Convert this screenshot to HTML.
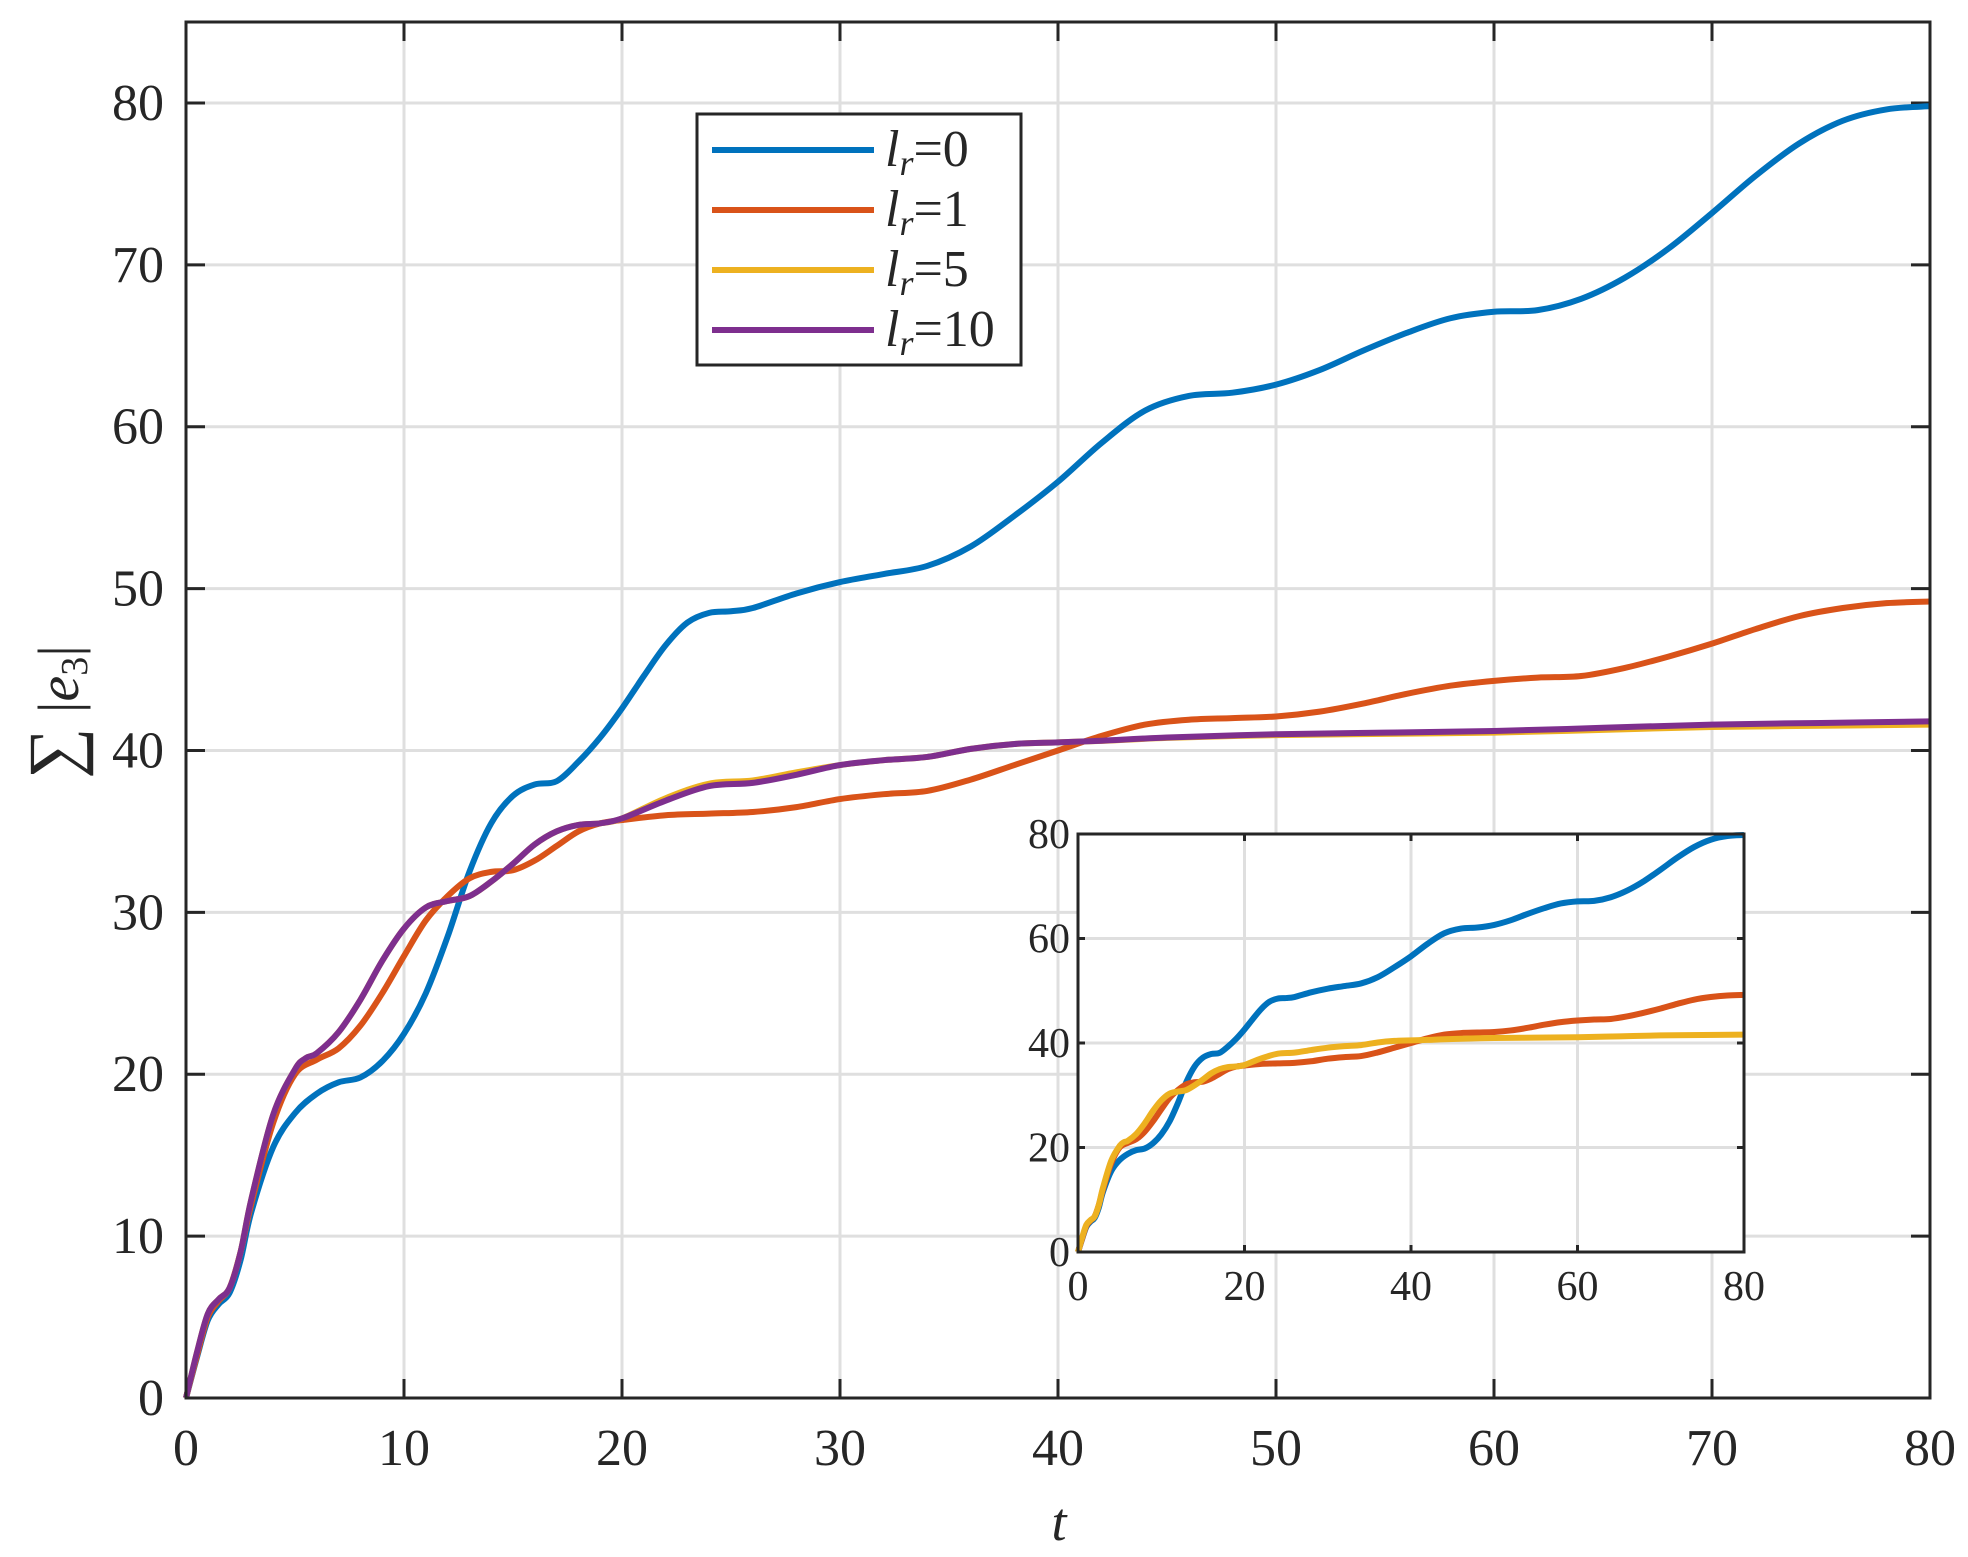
<!DOCTYPE html>
<html><head><meta charset="utf-8"><style>
html,body{margin:0;padding:0;background:#fff;}
svg{display:block;}
text{font-family:"Liberation Serif",serif;fill:#262626;}
</style></head><body>
<svg id="s" width="1968" height="1557" viewBox="0 0 1968 1557" xmlns="http://www.w3.org/2000/svg">
<rect width="1968" height="1557" fill="#fff"/>
<g id="main"></g>
<g id="leg">
<rect x="697" y="114" width="324" height="251" fill="#fff" stroke="#262626" stroke-width="3"/>
<line x1="712" y1="150" x2="874" y2="150" stroke="#0072BD" stroke-width="6"/>
<line x1="712" y1="210" x2="874" y2="210" stroke="#D95319" stroke-width="6"/>
<line x1="712" y1="270" x2="874" y2="270" stroke="#EDB120" stroke-width="6"/>
<line x1="712" y1="330" x2="874" y2="330" stroke="#7E2F8E" stroke-width="6"/>
<g font-size="52" fill="#000">
<text x="885" y="166"><tspan font-style="italic">l</tspan><tspan font-style="italic" font-size="36" dy="9">r</tspan><tspan dy="-9">=0</tspan></text>
<text x="885" y="226"><tspan font-style="italic">l</tspan><tspan font-style="italic" font-size="36" dy="9">r</tspan><tspan dy="-9">=1</tspan></text>
<text x="885" y="286"><tspan font-style="italic">l</tspan><tspan font-style="italic" font-size="36" dy="9">r</tspan><tspan dy="-9">=5</tspan></text>
<text x="885" y="346"><tspan font-style="italic">l</tspan><tspan font-style="italic" font-size="36" dy="9">r</tspan><tspan dy="-9">=10</tspan></text>
</g>
</g>
<g id="inset"></g>
<text x="1059" y="1540" font-size="54" font-style="italic" text-anchor="middle">t</text>
<g transform="translate(78,712) rotate(-90)">
<text x="0" y="0" font-size="58" text-anchor="middle"><tspan font-size="72">∑</tspan> |<tspan font-style="italic">e</tspan><tspan font-size="38" dy="9">3</tspan><tspan dy="-9">|</tspan></text>
</g>
</svg>
<script>
var NS="http://www.w3.org/2000/svg";
function el(p,n,a,t){var e=document.createElementNS(NS,n);for(var k in a)e.setAttribute(k,a[k]);if(t!=null)e.textContent=t;p.appendChild(e);return e;}
var blue=[[0,0],[0.5,2.5],[1,4.8],[1.5,5.8],[2,6.5],[2.5,8.5],[3,11.5],[4,15.5],[5,17.6],[6,18.8],[7,19.5],[8,19.8],[9,20.8],[10,22.5],[11,25],[12,28.5],[13,32.5],[14,35.5],[15,37.2],[16,37.9],[17,38.1],[18,39.3],[19,40.8],[20,42.6],[21,44.6],[22,46.5],[23,47.9],[24,48.5],[25,48.6],[26,48.8],[28,49.7],[30,50.4],[32,50.9],[34,51.4],[36,52.6],[38,54.5],[40,56.6],[42,59],[44,61],[46,61.9],[48,62.1],[50,62.6],[52,63.5],[54,64.7],[56,65.8],[58,66.7],[60,67.1],[62,67.2],[64,67.9],[66,69.2],[68,71],[70,73.2],[72,75.5],[74,77.5],[76,78.9],[78,79.6],[80,79.8]];
var orange=[[0,0],[0.5,2.6],[1,5],[1.5,6],[2,6.8],[2.5,9],[3,12],[4,17],[5,20],[6,20.9],[7,21.6],[8,23],[9,25],[10,27.3],[11,29.5],[12,31],[13,32.1],[14,32.5],[15,32.6],[16,33.2],[17,34.1],[18,35],[19,35.5],[20,35.7],[22,36],[24,36.1],[26,36.2],[28,36.5],[30,37],[32,37.3],[34,37.5],[36,38.2],[38,39.1],[40,40],[42,40.9],[44,41.6],[46,41.9],[48,42],[50,42.1],[52,42.4],[54,42.9],[56,43.5],[58,44],[60,44.3],[62,44.5],[64,44.6],[66,45.1],[68,45.8],[70,46.6],[72,47.5],[74,48.3],[76,48.8],[78,49.1],[80,49.2]];
var purple=[[0,0],[0.5,2.8],[1,5.2],[1.5,6.1],[2,6.8],[2.5,9],[3,12.3],[4,17.5],[5,20.3],[5.5,21],[6,21.3],[7,22.6],[8,24.6],[9,27],[10,29],[11,30.3],[12,30.7],[13,31],[14,31.9],[15,33],[16,34.2],[17,35],[18,35.4],[19,35.5],[20,35.8],[22,36.9],[24,37.8],[26,38],[28,38.5],[30,39.1],[32,39.4],[34,39.6],[36,40.1],[38,40.4],[40,40.5],[42,40.6],[45,40.8],[50,41],[55,41.1],[60,41.2],[65,41.4],[70,41.6],[75,41.7],[80,41.8]];
var yellow=purple.map(function(p){var v=p[1];if(p[0]>=40)v=p[1]-0.2*(p[0]-40)/40;if(p[0]>20&&p[0]<30)v+=0.15;return [p[0],v];});
function path(pts,X,Y){var P=pts.map(function(p){return [X(p[0]),Y(p[1])];});var d="M"+P[0][0]+","+P[0][1];
for(var i=0;i<P.length-1;i++){var p0=P[Math.max(0,i-1)],p1=P[i],p2=P[i+1],p3=P[Math.min(P.length-1,i+2)];
d+=" C"+(p1[0]+(p2[0]-p0[0])/6)+","+(p1[1]+(p2[1]-p0[1])/6)+" "+(p2[0]-(p3[0]-p1[0])/6)+","+(p2[1]-(p3[1]-p1[1])/6)+" "+p2[0]+","+p2[1];}return d;}
var m=document.getElementById("main");
var L=186,R=1930,B=1398,T=22;
var X=function(t){return L+(R-L)*t/80;},Y=function(v){return B-(B-T)*v/85;};
for(var t=10;t<80;t+=10)el(m,"line",{x1:X(t),y1:T,x2:X(t),y2:B,stroke:"#dfdfdf","stroke-width":3});
for(var v=10;v<=80;v+=10)el(m,"line",{x1:L,y1:Y(v),x2:R,y2:Y(v),stroke:"#dfdfdf","stroke-width":3});
for(var t=0;t<=80;t+=10){el(m,"line",{x1:X(t),y1:B,x2:X(t),y2:B-19,stroke:"#262626","stroke-width":3});el(m,"line",{x1:X(t),y1:T,x2:X(t),y2:T+19,stroke:"#262626","stroke-width":3});
el(m,"text",{x:X(t),y:1465,"font-size":52,"text-anchor":"middle"},String(t));}
for(var v=0;v<=80;v+=10){el(m,"line",{x1:L,y1:Y(v),x2:L+19,y2:Y(v),stroke:"#262626","stroke-width":3});el(m,"line",{x1:R,y1:Y(v),x2:R-19,y2:Y(v),stroke:"#262626","stroke-width":3});
el(m,"text",{x:164,y:Y(v)+17,"font-size":52,"text-anchor":"end"},String(v));}
[[blue,"#0072BD"],[orange,"#D95319"],[yellow,"#EDB120"],[purple,"#7E2F8E"]].forEach(function(s){el(m,"path",{d:path(s[0],X,Y),fill:"none",stroke:s[1],"stroke-width":6,"stroke-linejoin":"round"});});
el(m,"rect",{x:L,y:T,width:R-L,height:B-T,fill:"none",stroke:"#262626","stroke-width":3});
var g=document.getElementById("inset");
var l=1078,r=1744,tp=834,b=1252;
var x=function(t){return l+(r-l)*t/80;},y=function(v){return b-(b-tp)*v/80;};
el(g,"rect",{x:l,y:tp,width:r-l,height:b-tp,fill:"#fff"});
for(var t=20;t<80;t+=20)el(g,"line",{x1:x(t),y1:tp,x2:x(t),y2:b,stroke:"#dfdfdf","stroke-width":3});
for(var v=20;v<80;v+=20)el(g,"line",{x1:l,y1:y(v),x2:r,y2:y(v),stroke:"#dfdfdf","stroke-width":3});
for(var t=0;t<=80;t+=20){el(g,"line",{x1:x(t),y1:b,x2:x(t),y2:b-7,stroke:"#262626","stroke-width":3});el(g,"line",{x1:x(t),y1:tp,x2:x(t),y2:tp+7,stroke:"#262626","stroke-width":3});
el(g,"text",{x:x(t),y:1300,"font-size":42,"text-anchor":"middle"},String(t));}
for(var v=0;v<=80;v+=20){el(g,"line",{x1:l,y1:y(v),x2:l+7,y2:y(v),stroke:"#262626","stroke-width":3});el(g,"line",{x1:r,y1:y(v),x2:r-7,y2:y(v),stroke:"#262626","stroke-width":3});
el(g,"text",{x:l-8,y:y(v)+14,"font-size":42,"text-anchor":"end"},String(v));}
[[blue,"#0072BD"],[orange,"#D95319"],[yellow,"#EDB120"]].forEach(function(s){el(g,"path",{d:path(s[0],x,y),fill:"none",stroke:s[1],"stroke-width":6,"stroke-linejoin":"round"});});
el(g,"rect",{x:l,y:tp,width:r-l,height:b-tp,fill:"none",stroke:"#262626","stroke-width":3});
</script>
</body></html>
